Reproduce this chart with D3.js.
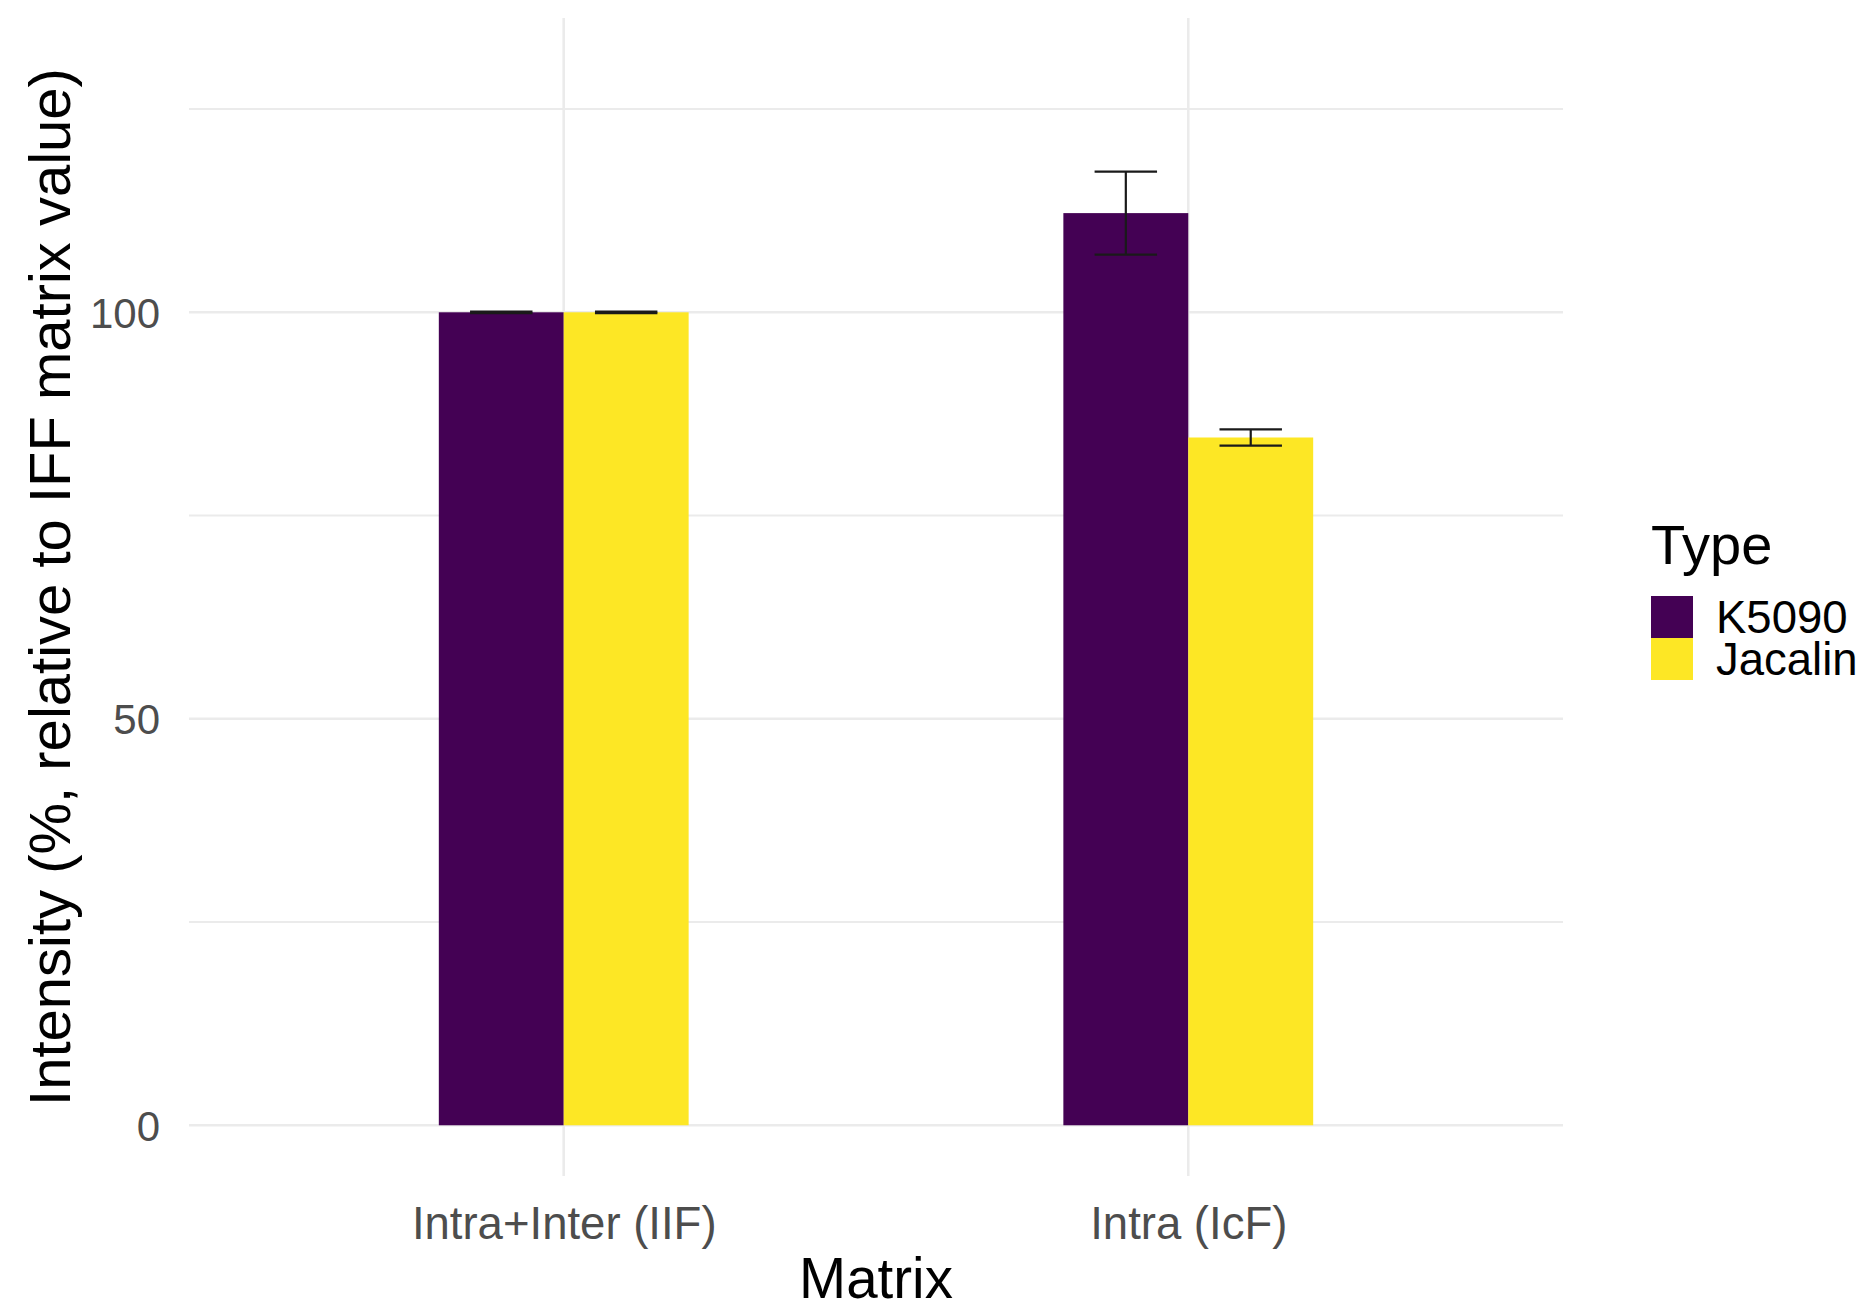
<!DOCTYPE html>
<html>
<head>
<meta charset="utf-8">
<script src="https://cdn.jsdelivr.net/npm/d3@7"></script>
<style>
  html, body { margin: 0; padding: 0; background: #fff; }
  svg { display: block; }
  text { font-family: "Liberation Sans", Arial, Helvetica, sans-serif; }
</style>
</head>
<body>
<svg id="chart" width="1869" height="1312"></svg>
<script>
// ---- data ----
const categories = ["Intra+Inter (IIF)", "Intra (IcF)"];
const types = ["K5090", "Jacalin"];
const k5090Mean = [100, 112.2];
const k5090Err = [0.1, 5.1];
const jacalinMean = [100, 84.6];
const jacalinErr = [0.1, 1.0];
const yTicksMajor = [0, 50, 100];
const yTicksMinor = [25, 75, 125];
const typeColors = ["#440154", "#FDE725"];

const rows = [];
categories.forEach((c, i) => {
  rows.push({cat: c, type: "K5090", mean: k5090Mean[i], err: k5090Err[i]});
  rows.push({cat: c, type: "Jacalin", mean: jacalinMean[i], err: jacalinErr[i]});
});

// ---- layout ----
const panel = {left: 189, right: 1563, top: 18, bottom: 1176};
const svg = d3.select("#chart");

const x = d3.scalePoint().domain(categories).range([panel.left, panel.right]).padding(0.6);
const step = x.step();
const sub = d3.scaleBand().domain(types).range([-0.2 * step, 0.2 * step]).padding(0);
const y = d3.scaleLinear().domain([-6.24, 136.2]).range([panel.bottom, panel.top]);
const color = d3.scaleOrdinal().domain(types).range(typeColors);

// gridlines
const grid = svg.append("g");
grid.selectAll("line.minor").data(yTicksMinor).join("line")
  .attr("x1", panel.left).attr("x2", panel.right)
  .attr("y1", d => y(d)).attr("y2", d => y(d))
  .attr("stroke", "#ebebeb").attr("stroke-width", 2);
grid.selectAll("line.major").data(yTicksMajor).join("line")
  .attr("x1", panel.left).attr("x2", panel.right)
  .attr("y1", d => y(d)).attr("y2", d => y(d))
  .attr("stroke", "#ebebeb").attr("stroke-width", 2.6);
grid.selectAll("line.vx").data(categories).join("line")
  .attr("x1", d => x(d)).attr("x2", d => x(d))
  .attr("y1", panel.top).attr("y2", panel.bottom)
  .attr("stroke", "#ebebeb").attr("stroke-width", 2.6);

// bars
svg.append("g").selectAll("rect").data(rows).join("rect")
  .attr("x", d => x(d.cat) + sub(d.type))
  .attr("width", sub.bandwidth())
  .attr("y", d => y(d.mean))
  .attr("height", d => y(0) - y(d.mean))
  .attr("fill", d => color(d.type));

// error bars
const eb = svg.append("g").attr("stroke", "#1a1a1a").attr("stroke-width", 2.2);
const half = sub.bandwidth() / 4;
rows.forEach(d => {
  const cx = x(d.cat) + sub(d.type) + sub.bandwidth() / 2;
  eb.append("line").attr("x1", cx).attr("x2", cx).attr("y1", y(d.mean + d.err)).attr("y2", y(d.mean - d.err));
  eb.append("line").attr("x1", cx - half).attr("x2", cx + half).attr("y1", y(d.mean + d.err)).attr("y2", y(d.mean + d.err));
  eb.append("line").attr("x1", cx - half).attr("x2", cx + half).attr("y1", y(d.mean - d.err)).attr("y2", y(d.mean - d.err));
});

// y axis labels
const yAxis = d3.axisLeft(y).tickValues(yTicksMajor).tickSize(0).tickPadding(29);
const yg = svg.append("g").attr("transform", `translate(${panel.left},0)`).call(yAxis);
yg.select(".domain").remove();
yg.selectAll("text").attr("font-size", 42).attr("fill", "#4d4d4d")
  .attr("font-family", "'Liberation Sans', Arial, sans-serif").attr("dy", "0.36em");

// x axis labels
const xAxis = d3.axisBottom(x).tickSize(0).tickPadding(0);
const xg = svg.append("g").attr("transform", `translate(0,1239)`).call(xAxis);
xg.select(".domain").remove();
xg.selectAll("text").attr("font-size", 45.5).attr("fill", "#4d4d4d")
  .attr("font-family", "'Liberation Sans', Arial, sans-serif").attr("dy", 0).attr("y", 0);

// axis titles
svg.append("text").attr("x", (panel.left + panel.right) / 2).attr("y", 1298)
  .attr("text-anchor", "middle").attr("font-size", 56.5).attr("fill", "#000").text("Matrix");
svg.append("text").attr("transform", `translate(70,587) rotate(-90)`)
  .attr("text-anchor", "middle").attr("font-size", 58).attr("fill", "#000")
  .text("Intensity (%, relative to IFF matrix value)");

// legend
const lg = svg.append("g").attr("transform", "translate(1651,0)");
lg.append("text").attr("x", 0).attr("y", 564).attr("font-size", 56).attr("fill", "#000").text("Type");
types.forEach((t, i) => {
  lg.append("rect").attr("x", 0).attr("y", 596 + i * 42).attr("width", 42).attr("height", 42).attr("fill", color(t));
  lg.append("text").attr("x", 65).attr("y", 596 + i * 42 + 21).attr("dy", "0.36em")
    .attr("font-size", 45.5).attr("fill", "#000").text(t);
});
</script>
</body>
</html>
